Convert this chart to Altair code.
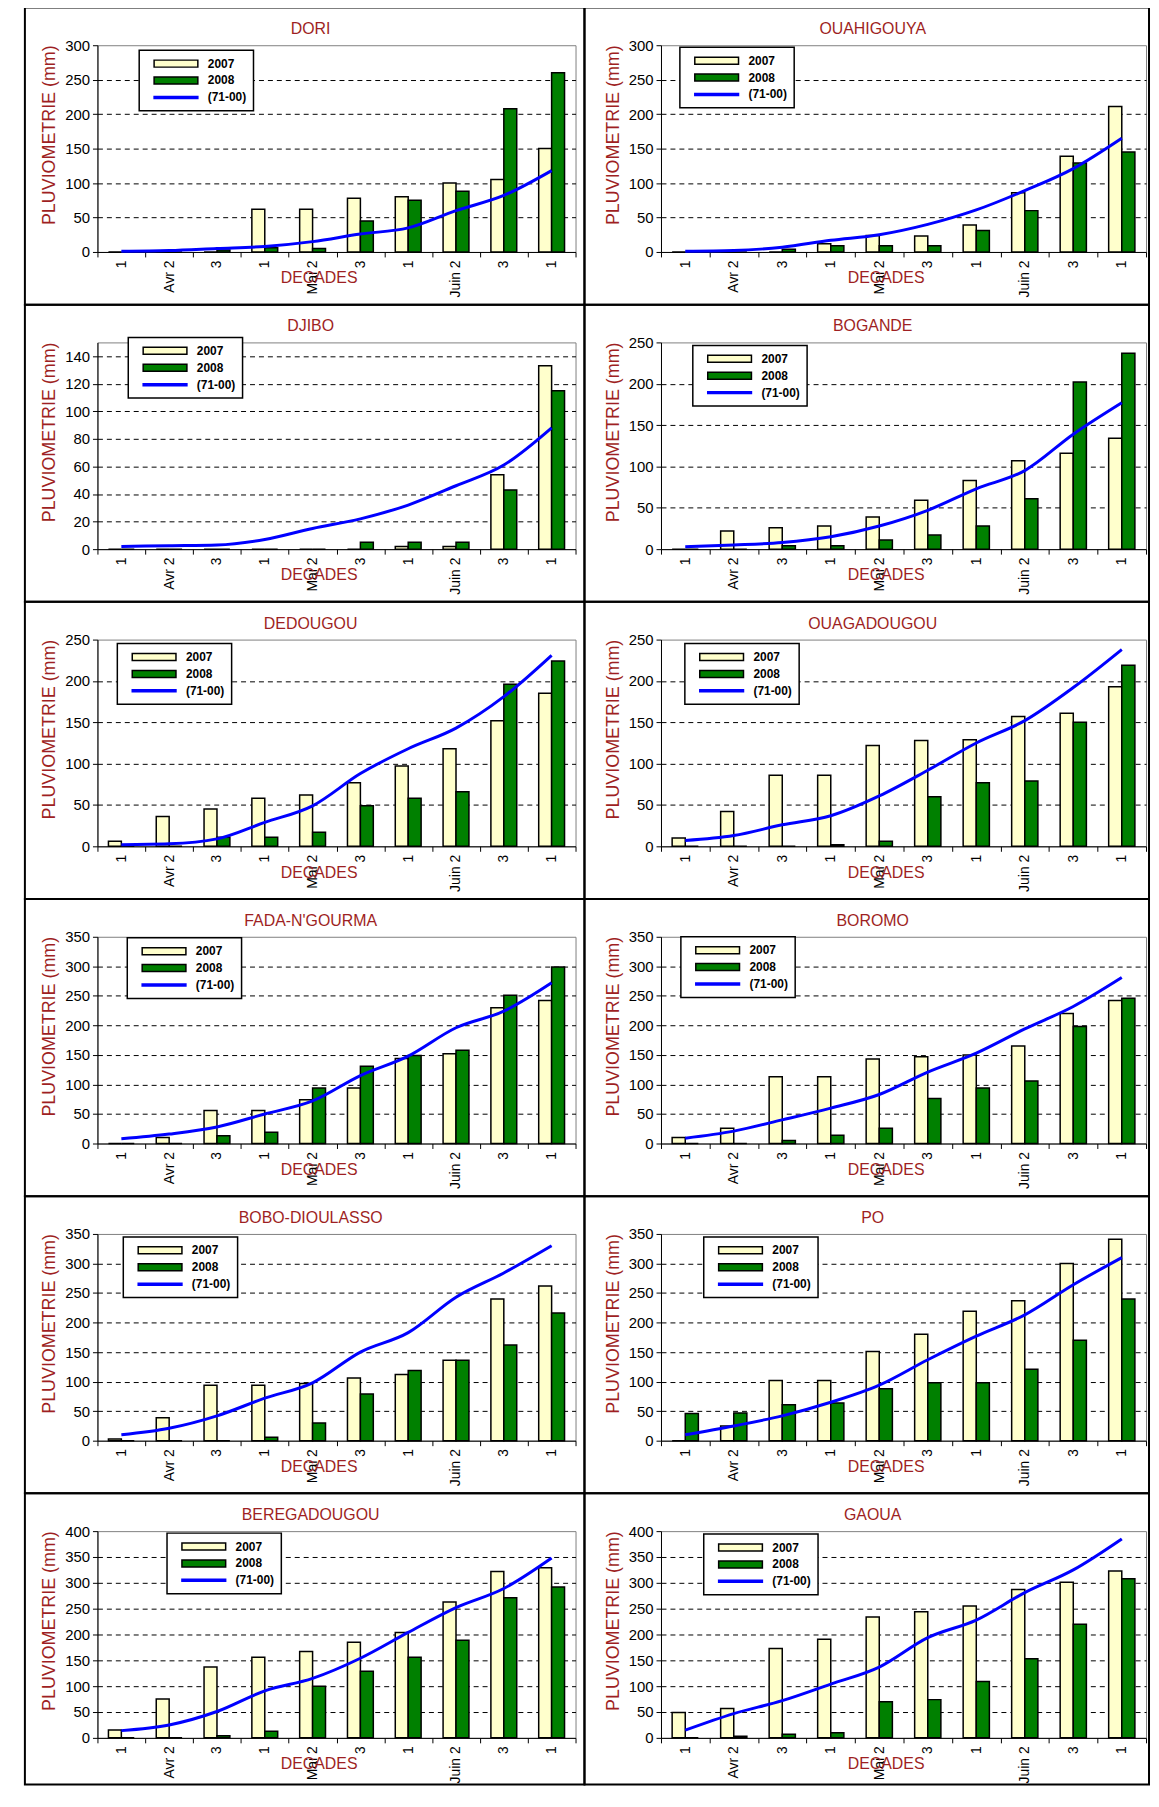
import altair as alt
import pandas as pd

# ---------------- data ----------------
DECADES = ["1", "Avr 2", "3", "1", "Mai 2", "3", "1", "Juin 2", "3", "1"]
SERIES = ["2007", "2008", "(71-00)"]

STATIONS = ["DORI", "OUAHIGOUYA", "DJIBO", "BOGANDE", "DEDOUGOU", "OUAGADOUGOU",
            "FADA-N'GOURMA", "BOROMO", "BOBO-DIOULASSO", "PO", "BEREGADOUGOU", "GAOUA"]

dori_2007 = [0, 0, 0, 62, 62, 78, 80, 100, 105, 150]
dori_2008 = [0, 0, 3, 6, 5, 45, 75, 88, 208, 260]
dori_norm = [1, 2, 5, 8, 15, 26, 35, 60, 82, 118]

ouahigouya_2007 = [0, 0, 0, 12, 24, 23, 39, 86, 139, 211]
ouahigouya_2008 = [0, 0, 4, 9, 9, 9, 31, 60, 129, 145]
ouahigouya_norm = [1, 2, 7, 17, 25, 40, 61, 89, 121, 165]

djibo_2007 = [0, 0, 0, 0, 0, 0, 2, 2, 54, 133]
djibo_2008 = [0, 0, 0, 0, 0, 5, 5, 5, 43, 115]
djibo_norm = [2, 2.5, 3, 7, 15, 22, 32, 46, 61, 88]

bogande_2007 = [0, 22, 26, 28, 39, 59, 83, 107, 116, 134]
bogande_2008 = [0, 0, 4, 4, 11, 17, 28, 61, 202, 237]
bogande_norm = [3, 5, 8, 15, 28, 47, 73, 95, 139, 177]

dedougou_2007 = [6, 36, 45, 58, 62, 77, 97, 118, 152, 185]
dedougou_2008 = [0, 0, 11, 11, 17, 49, 58, 66, 196, 224]
dedougou_norm = [2, 3, 9, 29, 49, 88, 118, 143, 181, 231]

ouaga_2007 = [10, 42, 86, 86, 122, 128, 129, 157, 161, 193]
ouaga_2008 = [0, 0, 0, 2, 6, 60, 77, 79, 150, 219]
ouaga_norm = [7, 13, 26, 37, 61, 92, 125, 152, 192, 238]

fada_2007 = [0, 10, 56, 56, 74, 94, 144, 152, 230, 242]
fada_2008 = [0, 0, 13, 19, 94, 131, 149, 158, 251, 299]
fada_norm = [8, 16, 28, 50, 72, 115, 148, 196, 224, 272]

boromo_2007 = [10, 26, 113, 113, 143, 147, 150, 165, 220, 242]
boromo_2008 = [0, 0, 5, 14, 26, 76, 94, 106, 198, 246]
boromo_norm = [9, 21, 40, 60, 83, 121, 153, 194, 232, 281]

bobo_2007 = [3, 39, 94, 94, 97, 106, 112, 136, 240, 262]
bobo_2008 = [0, 0, 0, 6, 30, 79, 119, 136, 162, 216]
bobo_norm = [10, 21, 42, 72, 98, 150, 183, 243, 284, 330]

po_2007 = [0, 25, 102, 102, 151, 180, 219, 237, 300, 341]
po_2008 = [46, 47, 61, 64, 88, 98, 98, 121, 170, 240]
po_norm = [10, 25, 42, 65, 94, 137, 177, 213, 264, 310]

berega_2007 = [15, 75, 137, 156, 167, 185, 204, 263, 322, 329]
berega_2008 = [0, 0, 4, 13, 100, 129, 156, 189, 271, 292]
berega_norm = [14, 25, 51, 91, 115, 154, 204, 252, 289, 348]

gaoua_2007 = [49, 57, 173, 191, 234, 244, 255, 287, 301, 323]
gaoua_2008 = [0, 3, 7, 10, 70, 74, 109, 153, 220, 308]
gaoua_norm = [15, 47, 72, 104, 137, 194, 228, 281, 325, 385]

Y_MAX = [300, 300, 150, 250, 250, 250, 350, 350, 350, 350, 400, 400]
Y_STEP = [50, 50, 20, 50, 50, 50, 50, 50, 50, 50, 50, 50]

VALUES = [
    (dori_2007, dori_2008, dori_norm),
    (ouahigouya_2007, ouahigouya_2008, ouahigouya_norm),
    (djibo_2007, djibo_2008, djibo_norm),
    (bogande_2007, bogande_2008, bogande_norm),
    (dedougou_2007, dedougou_2008, dedougou_norm),
    (ouaga_2007, ouaga_2008, ouaga_norm),
    (fada_2007, fada_2008, fada_norm),
    (boromo_2007, boromo_2008, boromo_norm),
    (bobo_2007, bobo_2008, bobo_norm),
    (po_2007, po_2008, po_norm),
    (berega_2007, berega_2008, berega_norm),
    (gaoua_2007, gaoua_2008, gaoua_norm),
]

# ---------------- style / layout ----------------
FONT = "Liberation Sans"
RED = "#9E1F23"
CREAM = "#FFFFCC"
GREEN = "#008000"
BLUE = "#0000FF"

W_L, W_R, H = 481, 488, 208
ROW_GAP = 91
LEGEND_POS = [(42, 5), (19, 2), (31, -5), (32, 3), (20, 4), (24, 4),
              (30, 1), (20, 0), (26, 3), (43, 3), (70, 2), (43, 3)]

RECT_SYM = "M-1,-0.16H1V0.16H-1Z"
LINE_SYM = "M-1,-0.045H1V0.045H-1Z"

label_expr = "[" + ",".join("'" + d + "'" for d in DECADES) + "][datum.value]"


def panel(i):
    left = (i % 2 == 0)
    last_row = i >= len(STATIONS) - 2
    W = W_L if left else W_R
    v07, v08, vn = VALUES[i]
    ymax, ystep = Y_MAX[i], Y_STEP[i]
    ticks = list(range(0, ymax + 1, ystep))

    rows = []
    for k in range(len(DECADES)):
        rows.append({"idx": k, "serie": "2007", "mm": v07[k]})
        rows.append({"idx": k, "serie": "2008", "mm": v08[k]})
        rows.append({"idx": k, "serie": "(71-00)", "mm": vn[k]})
    df = pd.DataFrame(rows)

    lx, ly = LEGEND_POS[i]
    leg = alt.Legend(title=None, orient="none", legendX=lx, legendY=ly,
                     direction="vertical", strokeColor="black", fillColor="white",
                     padding=7, symbolSize=1936, symbolStrokeWidth=1.5,
                     symbolOffset=7, clipHeight=13,
                     labelFont=FONT, labelFontSize=12, labelFontWeight="bold",
                     labelColor="black", rowPadding=4, labelOffset=9)

    fill_scale = alt.Scale(domain=SERIES, range=[CREAM, GREEN, BLUE])
    stroke_scale = alt.Scale(domain=SERIES, range=["#000000", "#000000", BLUE])
    shape_scale = alt.Scale(domain=SERIES, range=[RECT_SYM, RECT_SYM, LINE_SYM])

    x_enc = alt.X("idx:O", scale=alt.Scale(paddingInner=0, paddingOuter=0),
                  axis=alt.Axis(title="DECADES", labelExpr=label_expr, labelAngle=270,
                                tickBand="extent", domainColor="black", tickColor="black",
                                tickSize=5, labelPadding=3, labelFont=FONT, labelFontSize=14,
                                labelColor="black", titleFont=FONT, titleFontSize=16,
                                titleFontWeight="normal", titleColor=RED,
                                titleX=W / 2 - 18, titleY=26, titleAlign="center",
                                titleBaseline="middle", grid=False))
    y_enc = alt.Y("mm:Q", scale=alt.Scale(domain=[0, ymax], nice=False),
                  axis=alt.Axis(values=ticks, title="PLUVIOMETRIE (mm)", grid=True,
                                gridColor="black", gridDash=[5, 4], gridWidth=1,
                                gridOpacity={"condition": {"test": f"datum.value >= {ymax} || datum.value <= 0", "value": 0}, "value": 1},
                                domainColor="black", tickColor="black", tickSize=5,
                                labelPadding=3, labelFont=FONT, labelFontSize=15,
                                labelColor="black", titleFont=FONT, titleFontSize=18,
                                titleFontWeight="normal", titleColor=RED, titleAngle=270,
                                titleX=-48, titleY=H / 2 - 14, titleAlign="center",
                                titleBaseline="middle"))

    base = alt.Chart(df)

    bars = base.transform_filter(
        alt.FieldOneOfPredicate(field="serie", oneOf=["2007", "2008"])
    ).mark_bar(strokeWidth=1.5).encode(
        x=x_enc,
        xOffset=alt.XOffset("serie:N", scale=alt.Scale(domain=["2007", "2008"],
                                                      paddingInner=0, paddingOuter=0.85)),
        y=y_enc,
        fill=alt.Fill("serie:N", scale=fill_scale, legend=leg),
        stroke=alt.Stroke("serie:N", scale=stroke_scale, legend=leg),
    )

    line = base.transform_filter(
        alt.FieldEqualPredicate(field="serie", equal="(71-00)")
    ).mark_line(strokeWidth=3, interpolate="monotone").encode(
        x=x_enc, y=y_enc,
        stroke=alt.Stroke("serie:N", scale=stroke_scale, legend=leg),
    )

    keys = base.transform_filter("false").mark_point().encode(
        x=x_enc, y=y_enc,
        shape=alt.Shape("serie:N", scale=shape_scale, legend=leg),
    )

    x0, x1 = (-73, W + 9) if left else (-77, W + 3)
    y0 = -38
    y1 = H + 47 if last_row else H + ROW_GAP + y0
    one = pd.DataFrame({"station": [STATIONS[i]]})
    frame = alt.Chart(one).mark_rect(
        fillOpacity=0, stroke="black", strokeWidth=2
    ).encode(x=alt.value(x0), x2=alt.value(x1), y=alt.value(y0), y2=alt.value(y1))

    title = alt.Chart(one).mark_text(
        font=FONT, fontSize=16, color=RED, align="center", baseline="middle"
    ).encode(text="station:N", x=alt.value((x0 + x1) / 2 + 6), y=alt.value(-16))

    return alt.layer(frame, bars, line, keys, title).properties(width=W, height=H)


RES = dict(x="independent", y="independent", xOffset="independent",
           fill="independent", stroke="independent", shape="independent")
LRES = dict(fill="independent", stroke="independent", shape="independent")

panels = [panel(i) for i in range(len(STATIONS))]
chart = alt.concat(*panels, columns=2, spacing={"row": ROW_GAP, "column": 86},
                   bounds="flush").resolve_scale(**RES).resolve_legend(**LRES)
chart = chart.properties(
    padding={"left": 15, "top": -8, "right": 0, "bottom": 0},
    background="white",
).configure_view(stroke="#808080", strokeWidth=1).configure_legend(strokeWidth=1.5)

chart.save("out.html", embed_options={"renderer": "svg", "actions": False})
